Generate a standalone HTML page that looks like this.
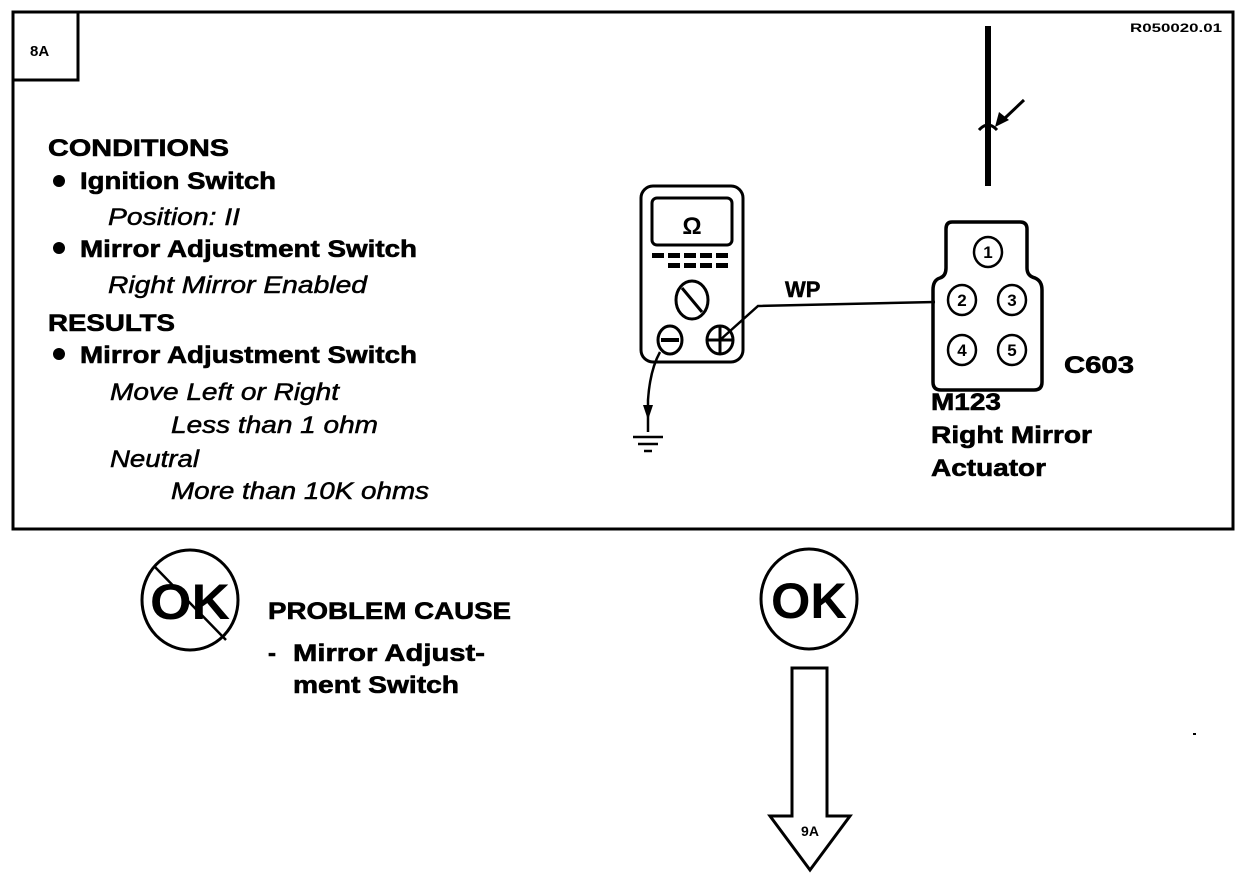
<!DOCTYPE html>
<html><head><meta charset="utf-8"><style>
html,body{margin:0;padding:0;background:#fff;}
svg{display:block;}
text{font-family:"Liberation Sans",Arial,sans-serif;fill:#000;}
.b{font-weight:bold;font-size:24px;stroke:#000;stroke-width:0.6px;}
.i{font-style:italic;font-size:24px;stroke:#000;stroke-width:0.5px;}
</style></head><body>
<svg width="1248" height="876" viewBox="0 0 1248 876" xmlns="http://www.w3.org/2000/svg">
<rect x="13" y="12" width="1220" height="517" fill="none" stroke="#000" stroke-width="3"/>
<rect x="13" y="12" width="65" height="68" fill="none" stroke="#000" stroke-width="3"/>
<text x="30" y="56" font-weight="bold" font-size="15">8A</text>
<text x="1130" y="32" font-weight="bold" font-size="12" textLength="92" lengthAdjust="spacingAndGlyphs">R050020.01</text>

<text class="b" x="48" y="156" textLength="181" lengthAdjust="spacingAndGlyphs">CONDITIONS</text>
<circle cx="59" cy="181" r="6"/>
<text class="b" x="80" y="189" textLength="196" lengthAdjust="spacingAndGlyphs">Ignition Switch</text>
<text class="i" x="108" y="225" textLength="132" lengthAdjust="spacingAndGlyphs">Position: II</text>
<circle cx="59" cy="248" r="6"/>
<text class="b" x="80" y="257" textLength="337" lengthAdjust="spacingAndGlyphs">Mirror Adjustment Switch</text>
<text class="i" x="108" y="293" textLength="259" lengthAdjust="spacingAndGlyphs">Right Mirror Enabled</text>
<text class="b" x="48" y="331" textLength="127" lengthAdjust="spacingAndGlyphs">RESULTS</text>
<circle cx="59" cy="354" r="6"/>
<text class="b" x="80" y="363" textLength="337" lengthAdjust="spacingAndGlyphs">Mirror Adjustment Switch</text>
<text class="i" x="110" y="400" textLength="229" lengthAdjust="spacingAndGlyphs">Move Left or Right</text>
<text class="i" x="171" y="433" textLength="207" lengthAdjust="spacingAndGlyphs">Less than 1 ohm</text>
<text class="i" x="110" y="467" textLength="89" lengthAdjust="spacingAndGlyphs">Neutral</text>
<text class="i" x="171" y="499" textLength="258" lengthAdjust="spacingAndGlyphs">More than 10K ohms</text>

<!-- vertical wire -->
<line x1="988" y1="26" x2="988" y2="186" stroke="#000" stroke-width="6"/>
<path d="M979 130 Q988 120 997 130" fill="none" stroke="#000" stroke-width="3"/>
<line x1="1024" y1="100" x2="1005" y2="118" stroke="#000" stroke-width="3"/>
<path d="M995 127 L999 112 L1009 120 Z"/>

<!-- meter -->
<rect x="641" y="186" width="102" height="176" rx="12" fill="none" stroke="#000" stroke-width="3"/>
<rect x="652" y="198" width="80" height="47" rx="5" fill="none" stroke="#000" stroke-width="3"/>
<text x="692" y="234" font-weight="bold" font-size="24" text-anchor="middle">Ω</text>
<g fill="#000">
<rect x="652" y="253" width="12" height="5"/><rect x="668" y="253" width="12" height="5"/><rect x="684" y="253" width="12" height="5"/><rect x="700" y="253" width="12" height="5"/><rect x="716" y="253" width="12" height="5"/>
<rect x="668" y="263" width="12" height="5"/><rect x="684" y="263" width="12" height="5"/><rect x="700" y="263" width="12" height="5"/><rect x="716" y="263" width="12" height="5"/>
</g>
<ellipse cx="692" cy="300" rx="16" ry="19" fill="none" stroke="#000" stroke-width="3"/>
<line x1="682" y1="288" x2="702" y2="312" stroke="#000" stroke-width="3"/>
<ellipse cx="670" cy="340" rx="12" ry="14" fill="none" stroke="#000" stroke-width="3"/>
<line x1="661" y1="340" x2="679" y2="340" stroke="#000" stroke-width="4"/>
<ellipse cx="720" cy="340" rx="13" ry="14" fill="none" stroke="#000" stroke-width="3"/>
<line x1="707" y1="340" x2="733" y2="340" stroke="#000" stroke-width="3"/>
<line x1="720" y1="326" x2="720" y2="354" stroke="#000" stroke-width="3"/>
<path d="M720 340 L758 306 L935 302" fill="none" stroke="#000" stroke-width="2.5"/>
<text x="785" y="297" font-weight="bold" font-size="22" stroke="#000" stroke-width="0.5">WP</text>
<path d="M660 352 Q650 370 648 400 L648 432" fill="none" stroke="#000" stroke-width="2.5"/>
<path d="M643 405 L653 405 L648 420 Z"/>
<line x1="633" y1="437" x2="663" y2="437" stroke="#000" stroke-width="2.5"/>
<line x1="638" y1="444" x2="658" y2="444" stroke="#000" stroke-width="2.5"/>
<line x1="644" y1="451" x2="652" y2="451" stroke="#000" stroke-width="2.5"/>

<!-- connector -->
<path d="M952 222 L1020 222 Q1027 222 1027 229 L1027 268 Q1027 276 1035 278 Q1042 281 1042 290 L1042 382 Q1042 390 1034 390 L941 390 Q933 390 933 382 L933 290 Q933 280 940 278 Q946 276 946 268 L946 229 Q946 222 952 222 Z" fill="none" stroke="#000" stroke-width="3.5"/>
<g fill="none" stroke="#000" stroke-width="2.5">
<ellipse cx="988" cy="252" rx="14" ry="15"/>
<ellipse cx="962" cy="300" rx="14" ry="15"/>
<ellipse cx="1012" cy="300" rx="14" ry="15"/>
<ellipse cx="962" cy="350" rx="14" ry="15"/>
<ellipse cx="1012" cy="350" rx="14" ry="15"/>
</g>
<g font-weight="bold" font-size="17" text-anchor="middle">
<text x="988" y="258">1</text><text x="962" y="306">2</text><text x="1012" y="306">3</text><text x="962" y="356">4</text><text x="1012" y="356">5</text>
</g>
<text class="b" x="1064" y="373" textLength="70" lengthAdjust="spacingAndGlyphs">C603</text>
<text class="b" x="931" y="410" textLength="70" lengthAdjust="spacingAndGlyphs">M123</text>
<text class="b" x="931" y="443" textLength="161" lengthAdjust="spacingAndGlyphs">Right Mirror</text>
<text class="b" x="931" y="476" textLength="115" lengthAdjust="spacingAndGlyphs">Actuator</text>

<!-- not OK -->
<ellipse cx="190" cy="600" rx="48" ry="50" fill="none" stroke="#000" stroke-width="3"/>
<text x="190" y="619" font-weight="bold" font-size="50" text-anchor="middle" textLength="80" lengthAdjust="spacingAndGlyphs">OK</text>
<line x1="154" y1="566" x2="226" y2="640" stroke="#000" stroke-width="2.5"/>
<text class="b" x="268" y="619" textLength="243" lengthAdjust="spacingAndGlyphs">PROBLEM CAUSE</text>
<text class="b" x="268" y="661">-</text>
<text class="b" x="293" y="661" textLength="192" lengthAdjust="spacingAndGlyphs">Mirror Adjust-</text>
<text class="b" x="293" y="693" textLength="166" lengthAdjust="spacingAndGlyphs">ment Switch</text>

<!-- OK -->
<ellipse cx="809" cy="599" rx="48" ry="50" fill="none" stroke="#000" stroke-width="3"/>
<text x="809" y="618" font-weight="bold" font-size="50" text-anchor="middle" textLength="76" lengthAdjust="spacingAndGlyphs">OK</text>
<path d="M792 668 L827 668 L827 816 L850 816 L810 870 L770 816 L792 816 Z" fill="none" stroke="#000" stroke-width="3"/>
<text x="810" y="836" font-weight="bold" font-size="14" text-anchor="middle">9A</text>
<rect x="1193" y="733" width="3" height="2"/>
</svg>
</body></html>
